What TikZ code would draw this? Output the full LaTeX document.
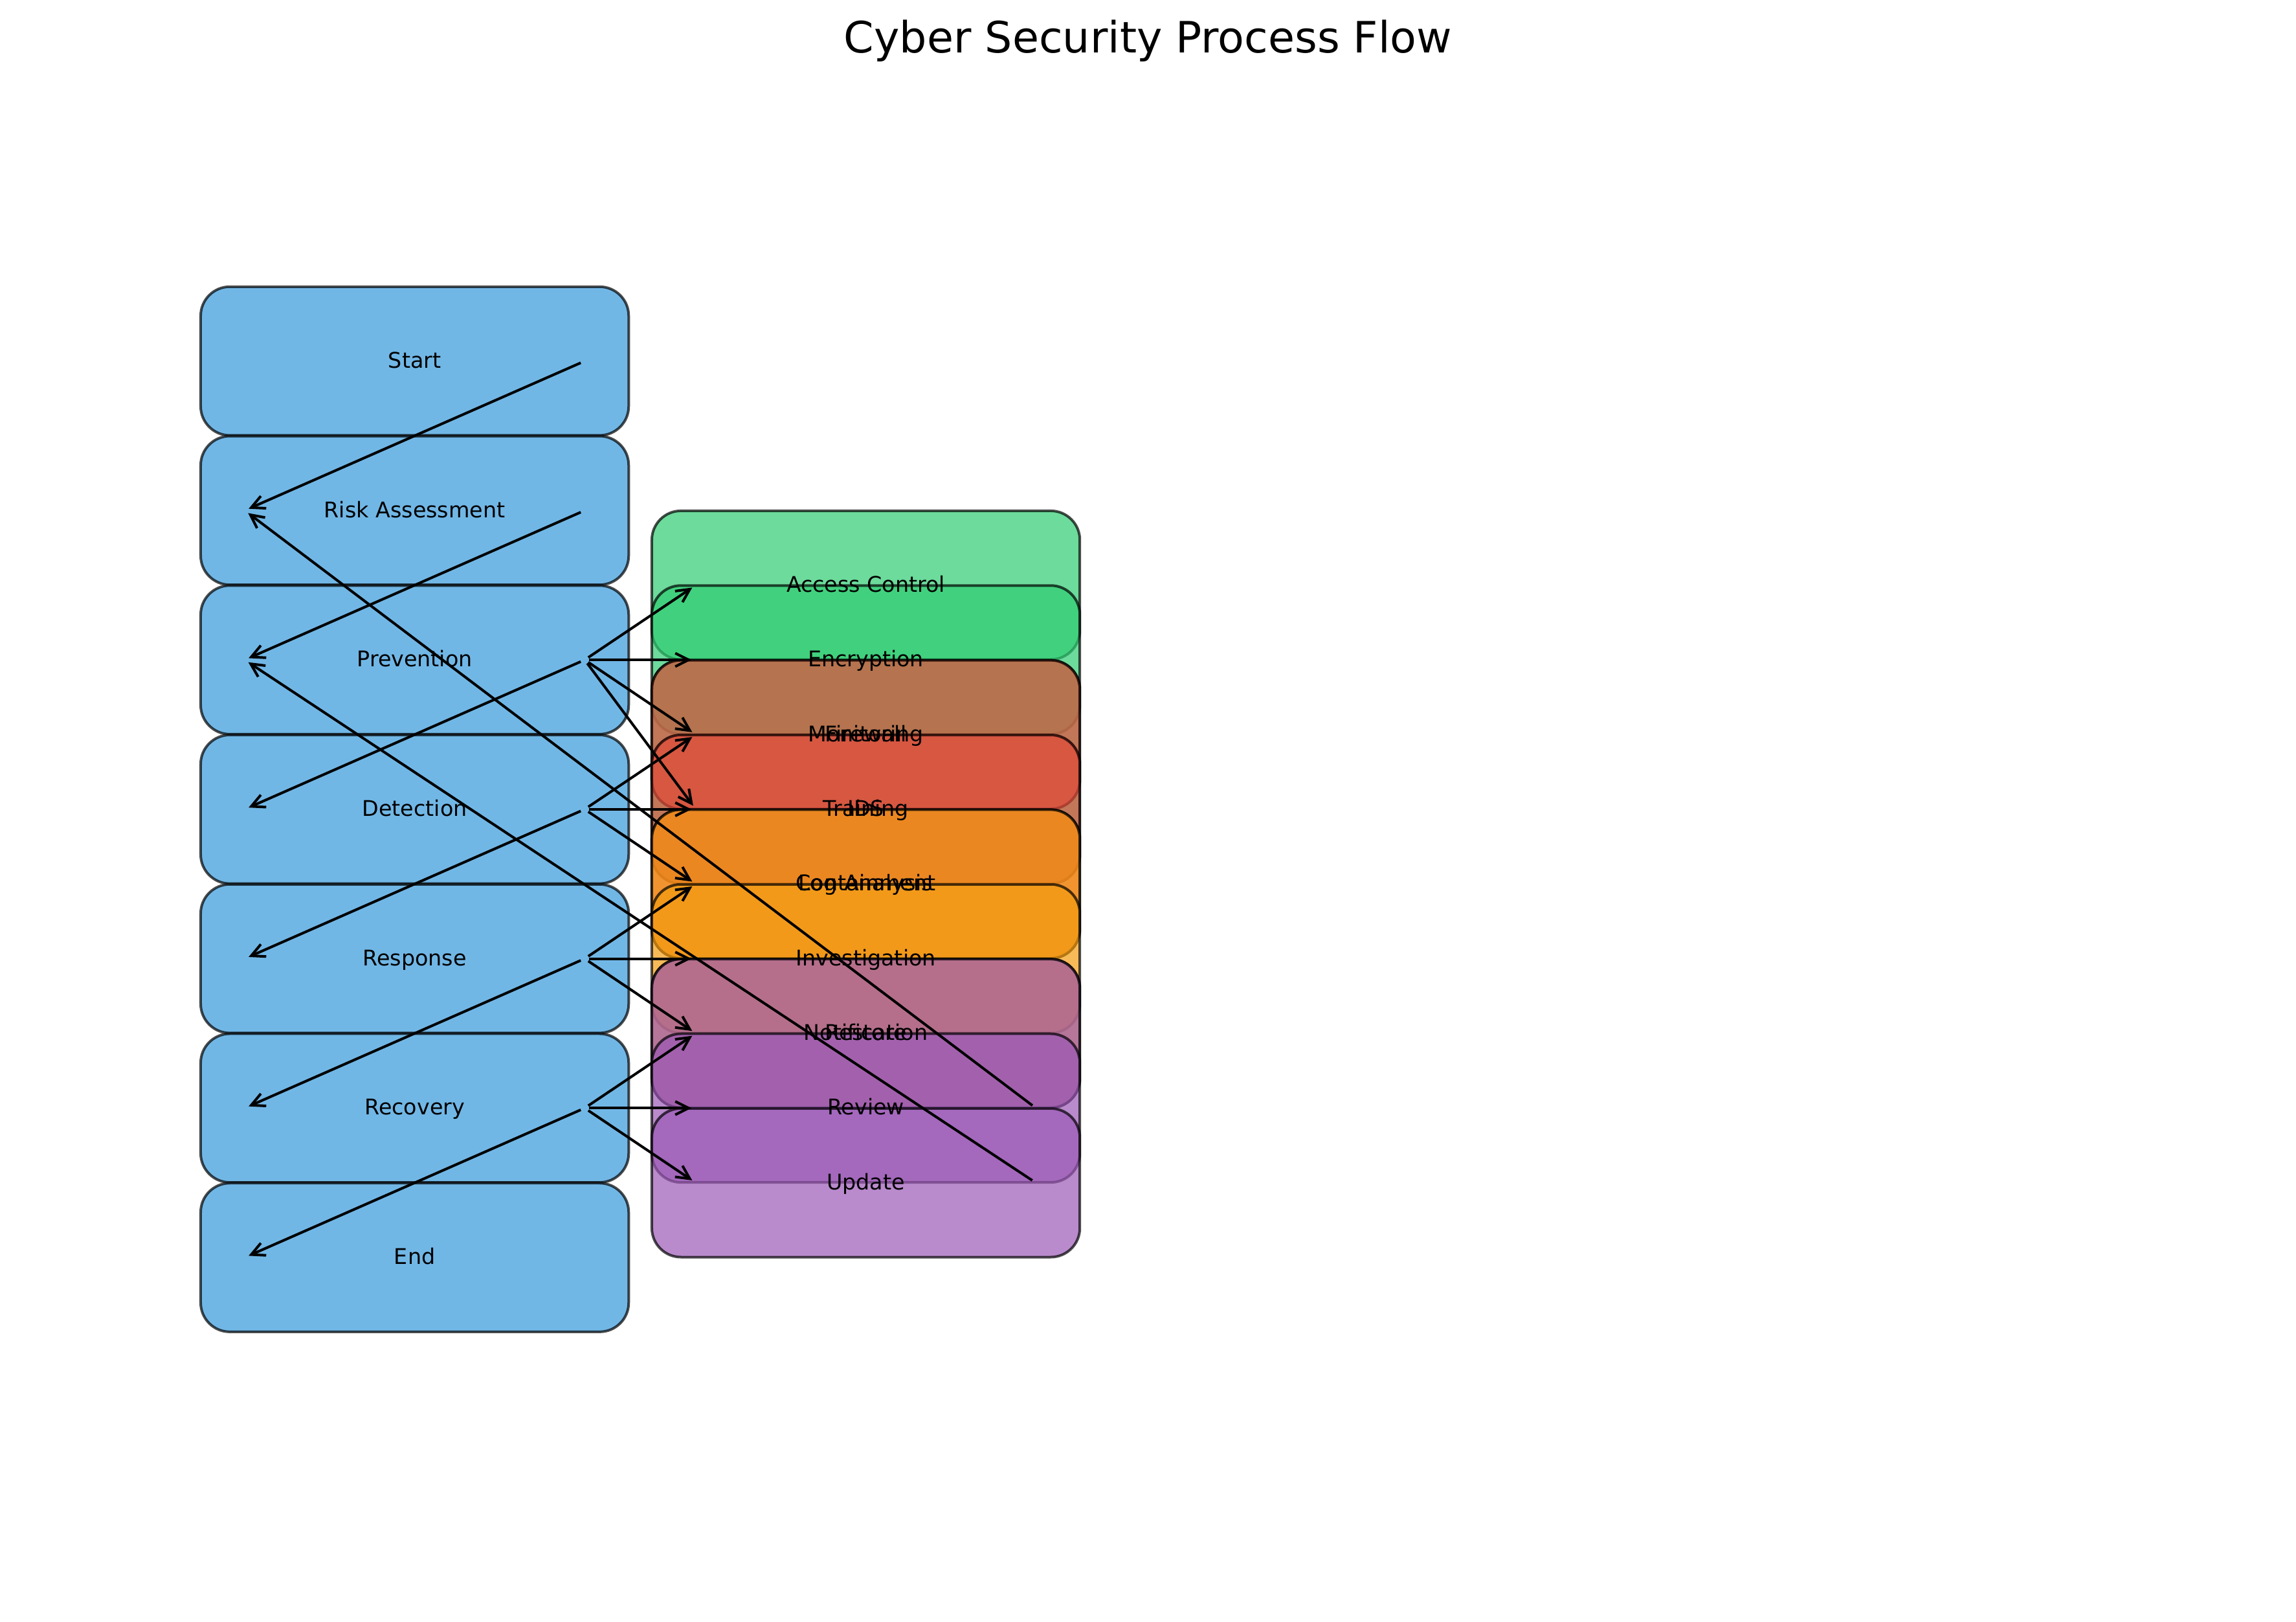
\documentclass[tikz,border=0pt]{standalone}
\usepackage{fontspec}
\setmainfont{DejaVu Sans}
\usetikzlibrary{arrows.meta}
\definecolor{stageblue}{HTML}{3498DB}
\definecolor{prevgreen}{HTML}{2ECC71}
\definecolor{detred}{HTML}{E74C3C}
\definecolor{resporange}{HTML}{F39C12}
\definecolor{recpurple}{HTML}{9B59B6}

\begin{document}
\begin{tikzpicture}[x=0.6787pt, y=-0.6787pt,
  box/.style={draw=black, draw opacity=0.7, fill opacity=0.7, line width=1.2pt,
    rounded corners=13.5pt, minimum width=198.4pt, minimum height=68.9pt,
    inner sep=0pt, outer sep=0pt},
  lbl/.style={inner sep=0pt, text height=7.4pt, text depth=1pt,
    font=\fontsize{10}{12}\selectfont},
  flow/.style={-{Straight Barb[length=6.2pt,width=6.2pt]}, line width=1.2pt,
    shorten <=2pt, shorten >=2pt}]
\useasboundingbox (0,0) rectangle (1568,1107);

\node (title) at (784,36.1) [anchor=base, inner sep=0pt, font=\fontsize{20}{24}\selectfont] {Cyber Security Process Flow};

% main stages
\node (start) at (283.2,246.5) [box, fill=stageblue] {};
\node (risk) at (283.2,348.5) [box, fill=stageblue] {};
\node (prev) at (283.2,450.5) [box, fill=stageblue] {};
\node (detect) at (283.2,552.5) [box, fill=stageblue] {};
\node (resp) at (283.2,654.5) [box, fill=stageblue] {};
\node (recov) at (283.2,756.5) [box, fill=stageblue] {};
\node (stop) at (283.2,858.5) [box, fill=stageblue] {};

% sub tasks
\node (access) at (591.3,399.5) [box, fill=prevgreen] {};
\node (encr) at (591.3,450.5) [box, fill=prevgreen] {};
\node (firewall) at (591.3,501.5) [box, fill=prevgreen] {};
\node (training) at (591.3,552.5) [box, fill=prevgreen] {};
\node (monitor) at (591.3,501.5) [box, fill=detred] {};
\node (ids) at (591.3,552.5) [box, fill=detred] {};
\node (logs) at (591.3,603.5) [box, fill=detred] {};
\node (contain) at (591.3,603.5) [box, fill=resporange] {};
\node (invest) at (591.3,654.5) [box, fill=resporange] {};
\node (notify) at (591.3,705.5) [box, fill=resporange] {};
\node (restore) at (591.3,705.5) [box, fill=recpurple] {};
\node (review) at (591.3,756.5) [box, fill=recpurple] {};
\node (update) at (591.3,807.5) [box, fill=recpurple] {};

% labels
\node (start-t) at (start) [lbl] {Start};
\node (risk-t) at (risk) [lbl] {Risk Assessment};
\node (prev-t) at (prev) [lbl] {Prevention};
\node (detect-t) at (detect) [lbl] {Detection};
\node (resp-t) at (resp) [lbl] {Response};
\node (recov-t) at (recov) [lbl] {Recovery};
\node (stop-t) at (stop) [lbl] {End};
\node (access-t) at (access) [lbl] {Access Control};
\node (encr-t) at (encr) [lbl] {Encryption};
\node (firewall-t) at (firewall) [lbl] {Firewall};
\node (training-t) at (training) [lbl] {Training};
\node (monitor-t) at (monitor) [lbl] {Monitoring};
\node (ids-t) at (ids) [lbl] {IDS};
\node (logs-t) at (logs) [lbl] {Log Analysis};
\node (contain-t) at (contain) [lbl] {Containment};
\node (invest-t) at (invest) [lbl] {Investigation};
\node (notify-t) at (notify) [lbl] {Notification};
\node (restore-t) at (restore) [lbl] {Restore};
\node (review-t) at (review) [lbl] {Review};
\node (update-t) at (update) [lbl] {Update};

% stage to stage
\draw [flow] ([xshift=-20.4pt]start.east) -- ([xshift=20.4pt]risk.west);
\draw [flow] ([xshift=-20.4pt]risk.east) -- ([xshift=20.4pt]prev.west);
\draw [flow] ([xshift=-20.4pt]prev.east) -- ([xshift=20.4pt]detect.west);
\draw [flow] ([xshift=-20.4pt]detect.east) -- ([xshift=20.4pt]resp.west);
\draw [flow] ([xshift=-20.4pt]resp.east) -- ([xshift=20.4pt]recov.west);
\draw [flow] ([xshift=-20.4pt]recov.east) -- ([xshift=20.4pt]stop.west);

% stage to task
\draw [flow] ([xshift=-20.4pt]prev.east) -- ([xshift=20.4pt]access.west);
\draw [flow] ([xshift=-20.4pt]prev.east) -- ([xshift=20.4pt]encr.west);
\draw [flow] ([xshift=-20.4pt]prev.east) -- ([xshift=20.4pt]firewall.west);
\draw [flow] ([xshift=-20.4pt]prev.east) -- ([xshift=20.4pt]training.west);
\draw [flow] ([xshift=-20.4pt]detect.east) -- ([xshift=20.4pt]monitor.west);
\draw [flow] ([xshift=-20.4pt]detect.east) -- ([xshift=20.4pt]ids.west);
\draw [flow] ([xshift=-20.4pt]detect.east) -- ([xshift=20.4pt]logs.west);
\draw [flow] ([xshift=-20.4pt]resp.east) -- ([xshift=20.4pt]contain.west);
\draw [flow] ([xshift=-20.4pt]resp.east) -- ([xshift=20.4pt]invest.west);
\draw [flow] ([xshift=-20.4pt]resp.east) -- ([xshift=20.4pt]notify.west);
\draw [flow] ([xshift=-20.4pt]recov.east) -- ([xshift=20.4pt]restore.west);
\draw [flow] ([xshift=-20.4pt]recov.east) -- ([xshift=20.4pt]review.west);
\draw [flow] ([xshift=-20.4pt]recov.east) -- ([xshift=20.4pt]update.west);

% feedback
\draw [flow] ([xshift=-20.4pt]review.east) -- ([xshift=20.4pt]risk.west);
\draw [flow] ([xshift=-20.4pt]update.east) -- ([xshift=20.4pt]prev.west);
\end{tikzpicture}
\end{document}
